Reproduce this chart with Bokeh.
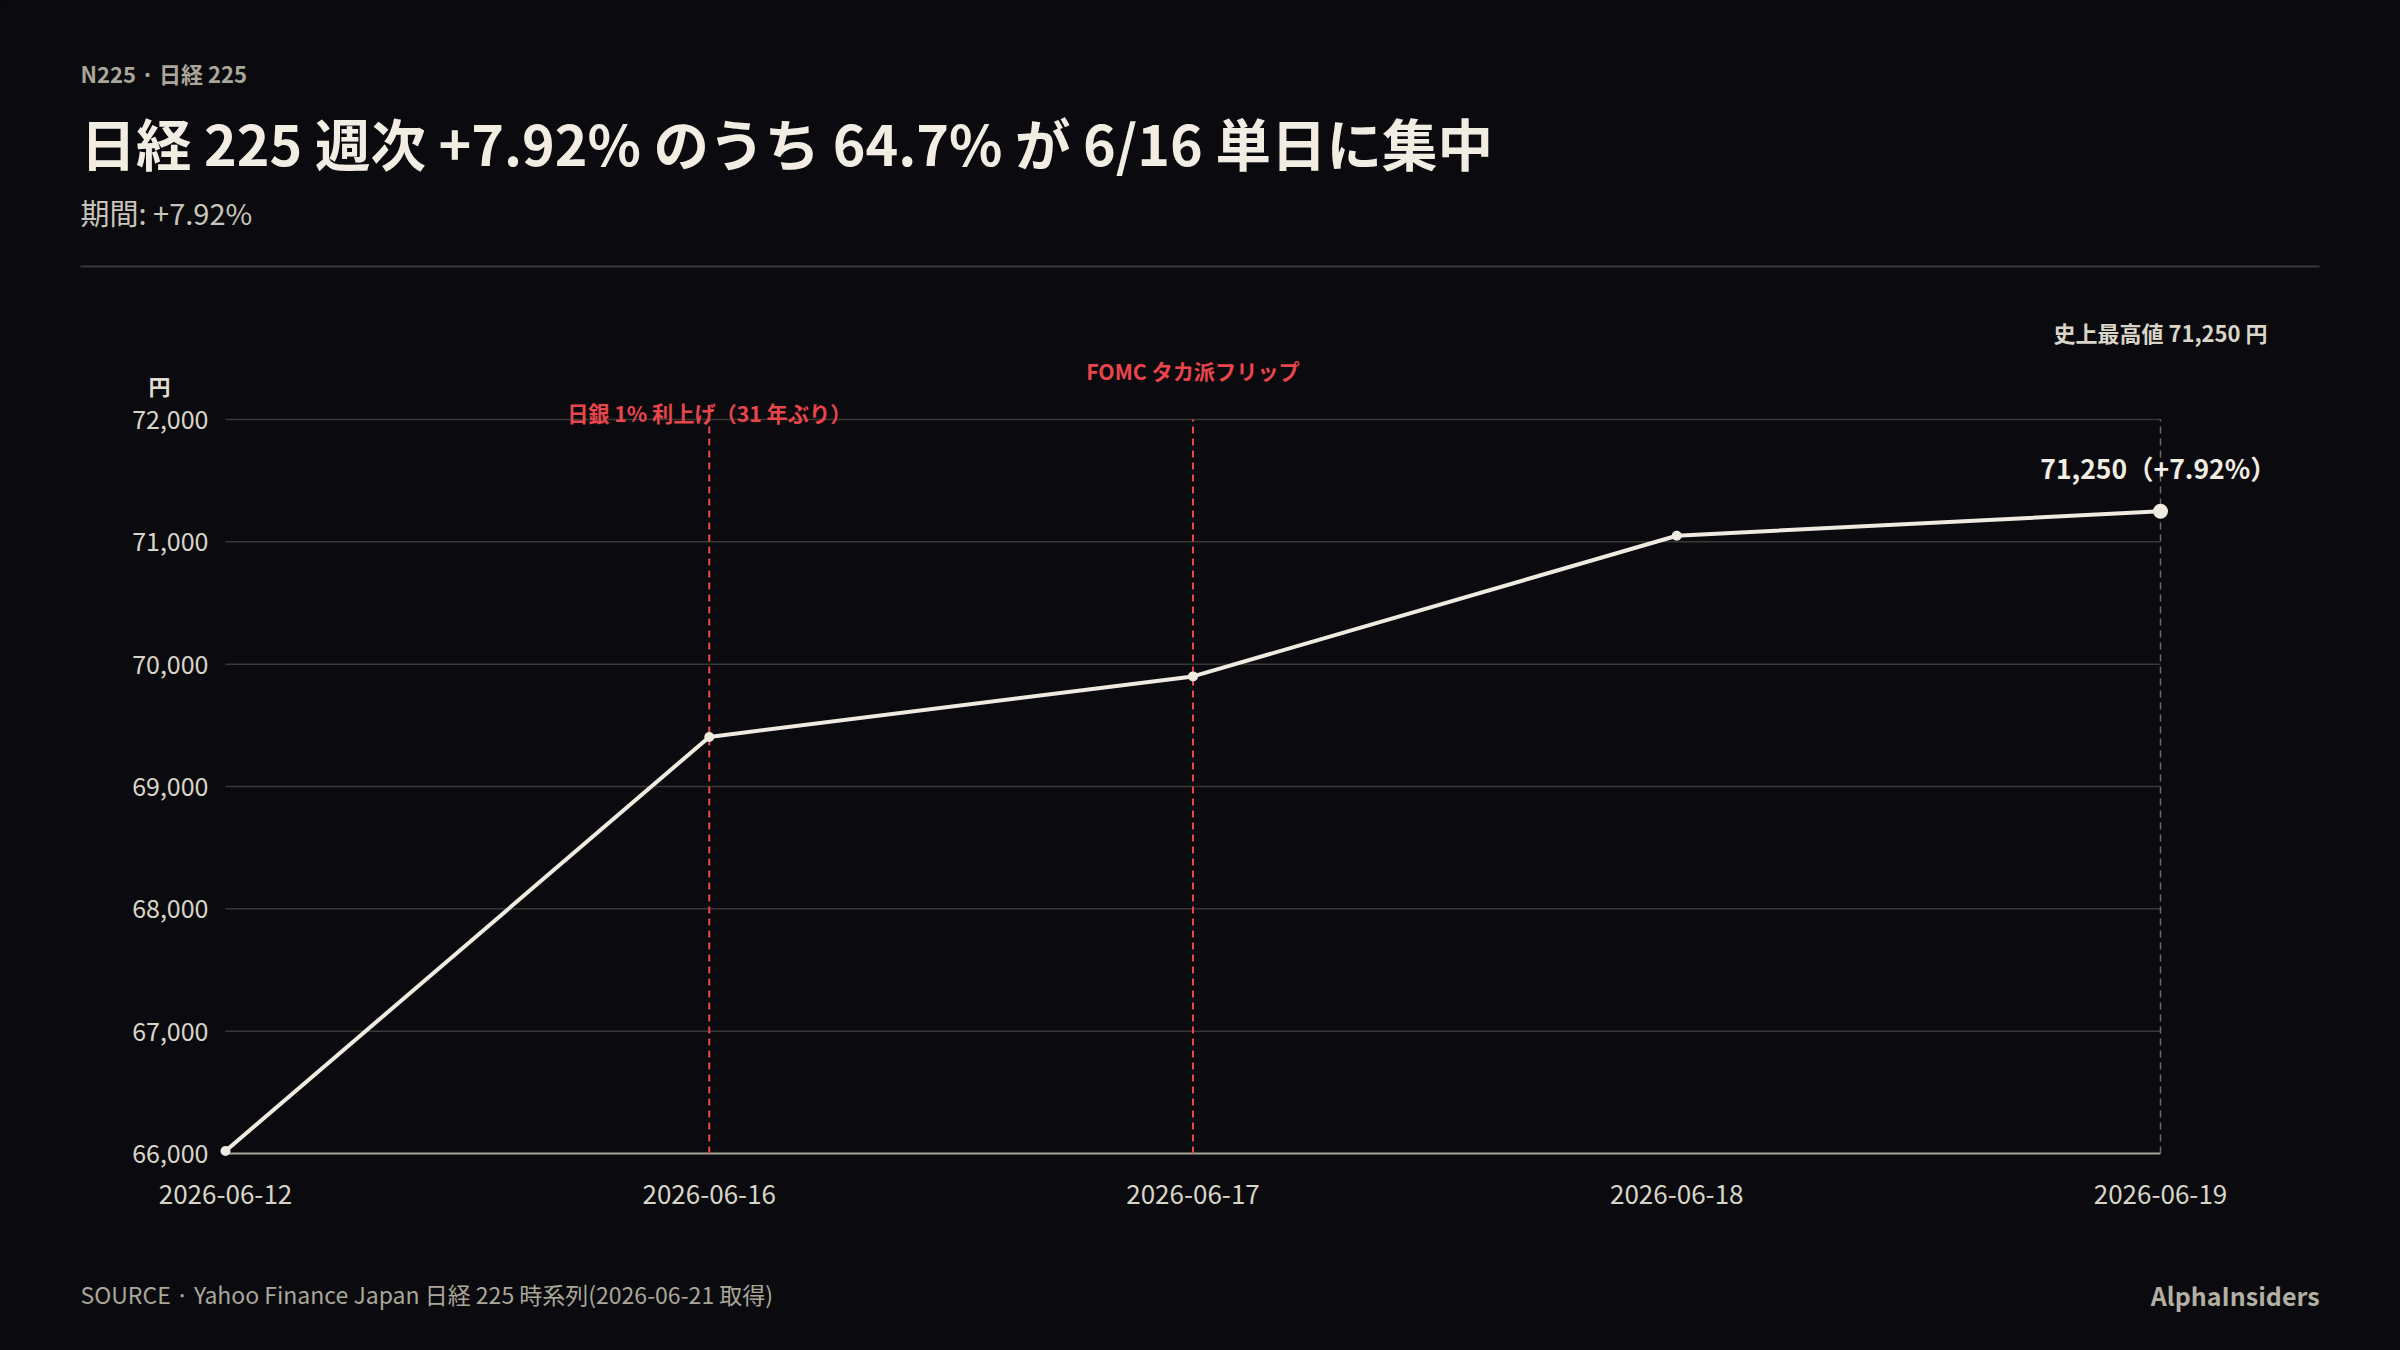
from bokeh.plotting import figure
from bokeh.models import Label, Range1d, GlobalInlineStyleSheet, ColumnDataSource
from bokeh.core.properties import value
from bokeh.embed import file_html
from bokeh.resources import INLINE

# data
dates = ["2026-06-12", "2026-06-16", "2026-06-17", "2026-06-18", "2026-06-19"]
close = [66020, 69405, 69900, 71050, 71250]
y_ticks = [66000, 67000, 68000, 69000, 70000, 71000, 72000]
event_dates = ["2026-06-16", "2026-06-17"]
event_names = ["日銀 1% 利上げ（31 年ぶり）", "FOMC タカ派フリップ"]

FONT = "Noto Sans CJK JP"
BG = "#0b0b0f"
CREAM = "#efebe1"
RED = "#e8464b"
GRID = "#393834"
BASE = "#a9a598"
MUTED = "#aaa69a"
TICK = "#d9d5c9"

# page layout in pixels: the plotting frame is the whole canvas
W, H = 2384, 1334
PLOT_L, PLOT_R, PLOT_T, PLOT_B = 225, 2160, 419, 1153

idx = list(range(len(dates)))
KX = (PLOT_R - PLOT_L) / (idx[-1] - idx[0])
KY = (PLOT_B - PLOT_T) / (y_ticks[-1] - y_ticks[0])


def px_x(px):
    return idx[0] + (px - PLOT_L) / KX


def px_y(py):
    return y_ticks[-1] - (py - PLOT_T) / KY


p = figure(width=W, height=H, output_backend="svg", toolbar_location=None,
           x_range=Range1d(px_x(0), px_x(W)), y_range=Range1d(px_y(H), px_y(0)),
           min_border=0)
p.stylesheets = [GlobalInlineStyleSheet(css="html, body { background-color: %s; }" % BG)]
p.background_fill_color = BG
p.border_fill_color = BG
p.outline_line_color = None
p.grid.visible = False
p.axis.visible = False

# grid lines spanning the data extent
n = len(y_ticks) - 1
p.segment(x0=[idx[0]] * n, x1=[idx[-1]] * n, y0=y_ticks[1:], y1=y_ticks[1:],
          line_color=GRID, line_width=1.5)
p.segment(x0=[idx[0]], x1=[idx[-1]], y0=[y_ticks[0]], y1=[y_ticks[0]],
          line_color=BASE, line_width=2)

# tick labels
ysrc = ColumnDataSource(dict(y=y_ticks, t=["{:,}".format(v) for v in y_ticks],
                             x=[px_x(208)] * len(y_ticks)))
p.text(x="x", y="y", text="t", source=ysrc, text_font=value(FONT), text_font_size="25px",
       text_color=TICK, text_align="right", text_baseline="middle")
xsrc = ColumnDataSource(dict(x=idx, t=dates, y=[px_y(1194)] * len(idx)))
p.text(x="x", y="y", text="t", source=xsrc, text_font=value(FONT), text_font_size="26px",
       text_color=TICK, text_align="center", text_baseline="middle")

# event markers and last-day marker
ev_x = [dates.index(d) for d in event_dates]
p.segment(x0=ev_x, x1=ev_x, y0=[y_ticks[0]] * len(ev_x), y1=[y_ticks[-1]] * len(ev_x),
          line_color=RED, line_width=2, line_dash="7 5")
p.segment(x0=[idx[-1]], x1=[idx[-1]], y0=[y_ticks[0]], y1=[y_ticks[-1]],
          line_color="#6b6961", line_width=1.5, line_dash="7 5")

# price line
p.line(idx, close, line_color=CREAM, line_width=4)
p.scatter(idx[:-1], close[:-1], size=10, fill_color=CREAM, line_color=None)
p.scatter(idx[-1:], close[-1:], size=15, fill_color=CREAM, line_color=None)


def label(x, y, text, size, color, bold=False, align="left"):
    p.add_layout(Label(x=x, y=y, text=text, text_font=FONT, text_font_size=size,
                       text_color=color, text_font_style="bold" if bold else "normal",
                       text_align=align, text_baseline="middle"))


# header block
label(px_x(80), px_y(72), "N225 · 日経 225", "22px", MUTED, bold=True)
label(px_x(80), px_y(141), "日経 225 週次 +7.92% のうち 64.7% が 6/16 単日に集中", "55.5px", "#f1ede3", bold=True)
label(px_x(80), px_y(211), "期間: +7.92%", "29px", "#c9c5ba")
p.segment(x0=[px_x(80)], x1=[px_x(2319)], y0=[px_y(266)], y1=[px_y(266)],
          line_color="#3b3a37", line_width=2)

# unit
label(px_x(159), px_y(384), "円", "22px", "#e0dccf", bold=True, align="center")

# event labels
for k, (x, name) in enumerate(zip(ev_x, event_names)):
    label(x, y_ticks[-1] + (7 + 42 * k) / KY, name, "21.2px", RED, bold=True, align="center")

# record high and last value
pct = (close[-1] / close[0] - 1) * 100
label(idx[-1], y_ticks[-1] + 88 / KY, "史上最高値 {:,} 円".format(max(close)), "22px", TICK,
      bold=True, align="center")
label(idx[-1] - 2 / KX, close[-1] + 44 / KY, "{:,}（+{:.2f}%）".format(close[-1], pct), "26.5px",
      "#f1ede3", bold=True, align="center")

# footer
label(px_x(80), px_y(1293), "SOURCE · Yahoo Finance Japan 日経 225 時系列(2026-06-21 取得)", "23px", MUTED)
label(px_x(2319), px_y(1294), "AlphaInsiders", "25px", "#b3afa3", bold=True, align="right")

open("out.html", "w").write(file_html(p, INLINE))
